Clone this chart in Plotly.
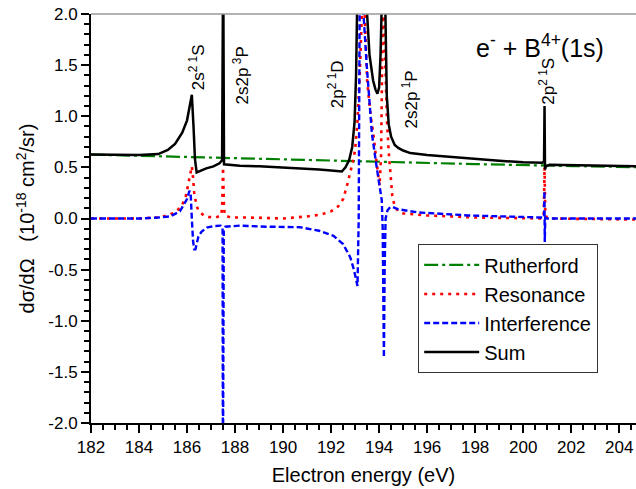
import plotly.graph_objects as go

# ---------------- data ----------------
ruth_x = [182, 186, 190, 194, 198, 202, 204.7]
ruth_y = [0.625, 0.60, 0.577, 0.553, 0.532, 0.513, 0.502]

res_x = [182, 184, 184.8, 185.2, 185.5, 185.78, 185.95, 186.05, 186.15, 186.2, 186.25, 186.3, 186.4,
         186.5, 186.7, 186.9, 187.2, 187.42, 187.46, 187.5, 187.54, 187.58, 187.8, 188.5, 190,
         191, 191.6, 192.0, 192.3, 192.5, 192.65, 192.8, 192.9, 193.0, 193.1, 193.2, 193.28, 193.34,
         193.40, 193.5, 193.65, 193.76, 193.88, 193.96, 194.02, 194.08, 194.13, 194.17, 194.21,
         194.27, 194.33, 194.4, 194.46, 194.55, 194.65, 194.8, 195.0, 196, 198, 200, 200.8, 200.86,
         200.89, 200.92, 201, 204.7]
res_y = [0.0, 0.0, 0.01, 0.03, 0.06, 0.12, 0.22, 0.33, 0.47, 0.51, 0.40, 0.25, 0.12,
         0.07, 0.03, 0.015, 0.01, 0.03, 0.10, 0.50, 0.10, 0.03, 0.01, 0.01, 0.0,
         0.02, 0.04, 0.07, 0.12, 0.19, 0.31, 0.45, 0.55, 0.67, 0.95, 1.45, 2.0, 2.4,
         2.0, 1.35, 1.0, 0.83, 0.58, 0.44, 0.32, 0.6, 1.5, 2.3, 1.9,
         1.3, 0.95, 0.65, 0.44, 0.22, 0.12, 0.07, 0.05, 0.03, 0.01, 0.0, 0.0, 0.05,
         0.5, 0.05, 0.0, -0.01]

int_x = [182, 184, 184.8, 185.3, 185.7, 186.0, 186.1, 186.15, 186.2, 186.25, 186.3, 186.35,
         186.47, 186.6, 186.82, 187.1, 187.4, 187.48, 187.495, 187.505, 187.53, 187.6, 188.2,
         189.3, 190.7, 191.5, 192.1, 192.5, 192.8, 192.95, 193.07, 193.1, 193.15, 193.2, 193.28,
         193.35, 193.49, 193.7, 193.9, 194.05, 194.11, 194.15, 194.18, 194.2, 194.23, 194.27,
         194.35, 194.46, 194.55, 194.8, 195.6, 197.7, 200.7, 200.87, 200.885, 200.9, 200.92,
         201, 204.7]
int_y = [0.0, 0.0, 0.01, 0.02, 0.07, 0.19, 0.27, 0.25, 0.0, -0.22, -0.30, -0.30,
         -0.18, -0.13, -0.09, -0.075, -0.07, -0.09, -2.6, -2.6, -0.12, -0.08, -0.07,
         -0.08, -0.085, -0.12, -0.17, -0.25, -0.38, -0.50, -0.64, -0.66, 0.0, 2.6, 3.0,
         2.0, 1.48, 0.83, 0.5, 0.25, 0.18, -0.1, -0.8, -1.36, -0.5, 0.0,
         0.08, 0.11, 0.115, 0.09, 0.06, 0.03, 0.01, 0.01, 0.27, -0.23, 0.01,
         0.0, 0.0]

sum_x = [182, 183, 184, 184.8, 185.2, 185.5, 185.8, 186.0, 186.12, 186.2, 186.27, 186.33, 186.4,
         186.5, 186.8, 187.1, 187.35, 187.46, 187.495, 187.505, 187.54, 187.7, 188.2, 189, 190,
         190.7, 191.5, 192.0, 192.3, 192.45, 192.6, 192.75, 192.88, 192.98, 193.04, 193.08, 193.12,
         193.45, 193.5, 193.6, 193.75, 193.85, 193.93, 194.0, 194.06, 194.11, 194.14, 194.22,
         194.26, 194.32, 194.4, 194.5, 194.65, 194.8, 195.0, 195.3, 196, 197, 198, 199, 200,
         200.5, 200.8, 200.87, 200.89, 200.91, 200.95, 201.1, 202, 203, 204.7]
sum_y = [0.625, 0.622, 0.62, 0.63, 0.67, 0.73, 0.84, 0.96, 1.12, 1.21, 0.90, 0.58, 0.45,
         0.46, 0.49, 0.51, 0.54, 0.57, 2.6, 2.6, 0.53, 0.525, 0.515, 0.51, 0.50,
         0.495, 0.48, 0.47, 0.46, 0.46, 0.50, 0.57, 0.70, 0.95, 1.4, 2.1, 2.6,
         2.6, 2.0, 1.6, 1.35, 1.26, 1.22, 1.28, 1.6, 2.1, 2.6, 2.6,
         2.0, 1.2, 0.92, 0.80, 0.72, 0.69, 0.665, 0.64, 0.62, 0.60, 0.58, 0.565, 0.55,
         0.545, 0.545, 0.56, 1.1, 0.48, 0.51, 0.525, 0.52, 0.515, 0.51]

label_text = ["2s<sup>2 1</sup>S", "2s2p<sup> 3</sup>P", "2p<sup>2 1</sup>D",
              "2s2p<sup> 1</sup>P", "2p<sup>2 1</sup>S"]
label_x = [186.42, 188.25, 192.19, 195.27, 201.0]
label_y = [1.48, 1.40, 1.31, 1.16, 1.34]

y_tickvals = [-2.0, -1.5, -1.0, -0.5, 0.0, 0.5, 1.0, 1.5, 2.0]
y_ticktext = ["-2.0", "-1.5", "-1.0", "-0.5", "0.0", "0.5", "1.0", "1.5", "2.0"]

FONT = "Liberation Sans, Arial, Helvetica, sans-serif"

fig = go.Figure()
fig.add_trace(go.Scatter(x=ruth_x, y=ruth_y, mode="lines", name="Rutherford",
                         line=dict(color="#008000", width=2.2, dash="14px,4px,3px,4px")))
fig.add_trace(go.Scatter(x=res_x, y=res_y, mode="lines", name="Resonance",
                         line=dict(color="#ff0000", width=2.6, dash="3px,5px")))
fig.add_trace(go.Scatter(x=int_x, y=int_y, mode="lines", name="Interference",
                         line=dict(color="#0000ff", width=2.4, dash="6px,3px")))
fig.add_trace(go.Scatter(x=sum_x, y=sum_y, mode="lines", name="Sum",
                         line=dict(color="black", width=2.5)))

for t, x, y in zip(label_text, label_x, label_y):
    fig.add_annotation(x=x, y=y, text=t, textangle=-90, showarrow=False,
                       font=dict(family=FONT, size=17, color="black"))

fig.add_annotation(xref="paper", yref="paper", x=0.945, y=0.922, xanchor="right", yanchor="middle",
                   text="e<sup>-</sup> + B<sup>4+</sup>(1s)", showarrow=False,
                   font=dict(family=FONT, size=25, color="black"))

# top frame line (grey)
fig.add_shape(type="line", xref="paper", yref="paper", x0=0, x1=1, y0=1, y1=1,
              line=dict(color="#999999", width=1.5))

fig.update_layout(
    width=636, height=489,
    margin=dict(l=91, r=0, t=14, b=66),
    paper_bgcolor="white", plot_bgcolor="white",
    font=dict(family=FONT, size=17, color="black"),
    showlegend=True,
    legend=dict(x=0.6, y=0.437, xanchor="left", yanchor="top",
                bgcolor="white", bordercolor="#333333", borderwidth=1.2,
                font=dict(family=FONT, size=20), itemwidth=55, entrywidth=180,
                tracegroupgap=0),
    xaxis=dict(range=[182, 204.7], dtick=2, tick0=182, ticks="outside", ticklen=8, tickwidth=1.5,
               tickcolor="black", showline=True, linecolor="black", linewidth=2,
               showgrid=False, zeroline=False,
               minor=dict(dtick=0.5, ticks="outside", ticklen=5, tickwidth=1.5, tickcolor="black"),
               tickfont=dict(size=17),
               title=dict(text="Electron energy (eV)", font=dict(size=20), standoff=12)),
    yaxis=dict(range=[-2, 2], tickmode="array", tickvals=y_tickvals, ticktext=y_ticktext,
               ticks="outside", ticklen=8, tickwidth=1.5,
               tickcolor="black", showline=True, linecolor="black", linewidth=2,
               showgrid=False, zeroline=False,
               minor=dict(dtick=0.1, tick0=0, ticks="outside", ticklen=5, tickwidth=1.5, tickcolor="black"),
               tickfont=dict(size=17),
               title=dict(text="dσ/dΩ\u00a0\u00a0\u00a0(10<sup>-18</sup> cm<sup>2</sup>/sr)",
                          font=dict(size=20), standoff=8)),
)

fig.write_html("out.html")
